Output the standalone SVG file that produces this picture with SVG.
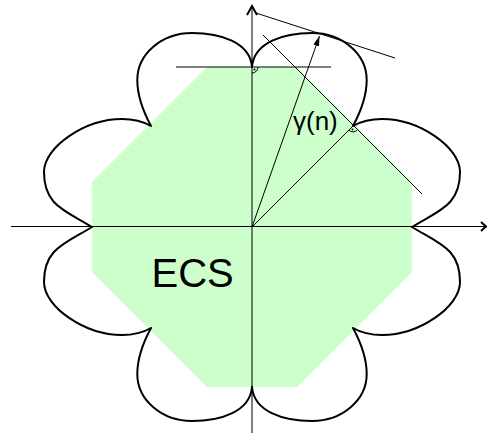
<svg xmlns="http://www.w3.org/2000/svg" width="487" height="435" viewBox="0 0 487 435">
<style>
.lobe{fill:none;stroke:#000;stroke-width:2;stroke-linejoin:round;stroke-linecap:round}
.thin{fill:none;stroke:#000;stroke-width:1}
.axh{fill:none;stroke:#000;stroke-width:2;stroke-linejoin:miter}
.lbl{font-family:"Liberation Sans",Arial,sans-serif;fill:#000}
</style>
<defs>
<marker id="ah" viewBox="0 0 10 6" refX="10" refY="3" markerWidth="10" markerHeight="6" markerUnits="userSpaceOnUse" orient="auto"><path d="M0,0 L10,3 L0,6 z" fill="#000"/></marker>
<path id="q" d="M0,-160 C2,-185 32,-194 60,-194 C90.2,-194 114.7,-173 114.7,-147 C114.7,-132 109.4,-116.6 101,-101 C108,-105 120,-108 130,-108 C167,-108 208,-80 208,-55 C208,-22 188,-17 160,0"/>
</defs>
<g id="ecs-region">
<polygon points="207,67 297,67 412,182 412,272 297,387 207,387 92,272 92,182" fill="#ccffcc"/>
</g>
<g id="flower-curve" transform="translate(252,227)" class="lobe">
<use href="#q"/>
<use href="#q" transform="scale(-1,1)"/>
<use href="#q" transform="scale(1,-1)"/>
<use href="#q" transform="scale(-1,-1)"/>
</g>
<g id="axes">
<line class="thin" x1="252" y1="433" x2="252" y2="7"/>
<polyline class="axh" points="247,15 252,6 257,15"/>
<line class="thin" x1="11" y1="226.5" x2="485" y2="226.5"/>
<polyline class="axh" points="481,222 486,226.5 481,231"/>
</g>
<g id="connectors">
<line class="thin" x1="176" y1="67" x2="331" y2="67"/>
<line class="thin" x1="263" y1="35" x2="422" y2="194"/>
<line class="thin" x1="256" y1="13" x2="395" y2="58"/>
<line class="thin" x1="252" y1="227" x2="353" y2="126"/>
<line class="thin" x1="252" y1="227" x2="319.5" y2="36" marker-end="url(#ah)"/>
<path class="thin" d="M258,67 A6,6 0 0 1 252,73"/>
<circle cx="254.5" cy="69.5" r="1" fill="#000"/>
<path class="thin" d="M357.2,130.2 A6,6 0 0 1 348.8,130.2"/>
<circle cx="352.5" cy="129.5" r="1" fill="#000"/>
</g>
<g id="labels">
<text class="lbl" x="293" y="130" font-size="26">γ(n)</text>
<text class="lbl" x="151.5" y="286.5" font-size="40">ECS</text>
</g>
</svg>
